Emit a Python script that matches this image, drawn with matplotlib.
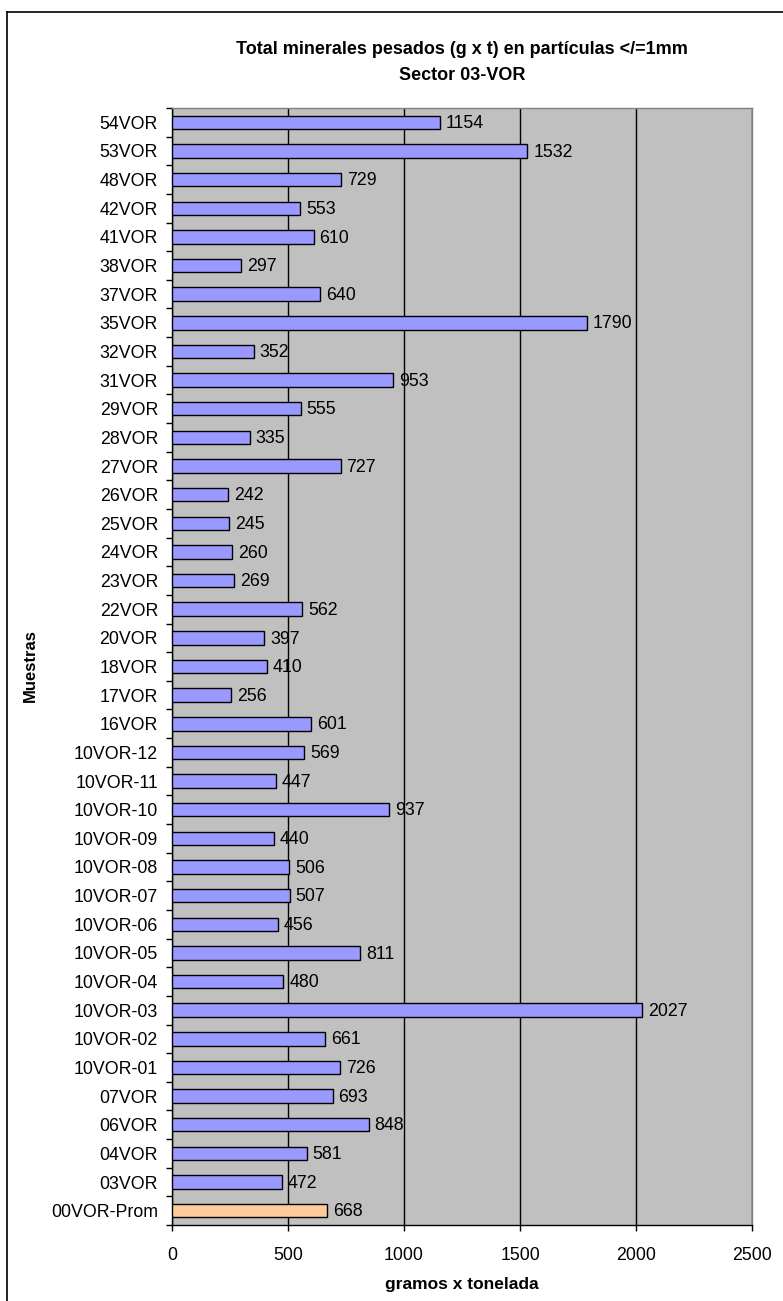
import matplotlib
matplotlib.use("Agg")
import matplotlib.pyplot as plt
from matplotlib.lines import Line2D
import numpy as np

plt.rcParams['font.family'] = ['Liberation Sans', 'DejaVu Sans']

categories = ["54VOR", "53VOR", "48VOR", "42VOR", "41VOR", "38VOR", "37VOR", "35VOR",
              "32VOR", "31VOR", "29VOR", "28VOR", "27VOR", "26VOR", "25VOR", "24VOR",
              "23VOR", "22VOR", "20VOR", "18VOR", "17VOR", "16VOR", "10VOR-12", "10VOR-11",
              "10VOR-10", "10VOR-09", "10VOR-08", "10VOR-07", "10VOR-06", "10VOR-05",
              "10VOR-04", "10VOR-03", "10VOR-02", "10VOR-01", "07VOR", "06VOR", "04VOR",
              "03VOR", "00VOR-Prom"]
values = [1154, 1532, 729, 553, 610, 297, 640, 1790, 352, 953, 555, 335, 727, 242, 245,
          260, 269, 562, 397, 410, 256, 601, 569, 447, 937, 440, 506, 507, 456, 811,
          480, 2027, 661, 726, 693, 848, 581, 472, 668]
average_label = "00VOR-Prom"
x_ticks = [0, 500, 1000, 1500, 2000, 2500]

W, H = 783, 1301
fig = plt.figure(figsize=(W / 100, H / 100), dpi=100)
ax = fig.add_axes([172 / W, 1 - 1225 / H, (752 - 172) / W, (1225 - 108) / H])

n = len(categories)
ypos = np.arange(n)
colors = ['#FFCC99' if c == average_label else '#9999FF' for c in categories]
ax.set_facecolor('#C0C0C0')
bars = ax.barh(ypos, values, height=0.47, color=colors, edgecolor='black', linewidth=1.0, zorder=3)
for b, v in zip(bars, values):
    ax.text(b.get_width() + 25, b.get_y() + b.get_height() / 2 + 0.04, f"{v}",
            va='center', ha='left', fontsize=12.8, zorder=4)

ax.set_ylim(n - 0.5, -0.5)
ax.set_xlim(0, 2500)
ax.set_xticks(x_ticks)
ax.set_xticklabels([str(t) for t in x_ticks], fontsize=12.8)
ax.set_yticks(ypos)
ax.set_yticklabels(categories, fontsize=12.8)
ax.set_yticks(np.arange(n + 1) - 0.5, minor=True)
ax.tick_params(axis='y', which='major', length=0, pad=10)
ax.tick_params(axis='y', which='minor', length=4, width=1, direction='out', color='black')
ax.tick_params(axis='x', which='major', length=4, width=1, direction='out', pad=12)
ax.xaxis.grid(True, color='black', linewidth=1.0, zorder=1)
ax.set_axisbelow(True)

for s in ['left', 'bottom']:
    ax.spines[s].set_color('black')
    ax.spines[s].set_linewidth(1.0)
for s in ['top', 'right']:
    ax.spines[s].set_color('#808080')
    ax.spines[s].set_linewidth(1.0)

ax.set_xlabel("gramos x tonelada", fontsize=12.5, fontweight='bold', labelpad=9)
fig.text(30 / W, 1 - 666 / H, "Muestras", rotation=90, fontsize=12, fontweight='bold',
         ha='center', va='center')
fig.text(462 / W, 1 - 50 / H, "Total minerales pesados (g x t) en partículas </=1mm",
         fontsize=13, fontweight='bold', ha='center', va='center')
fig.text(462 / W, 1 - 75 / H, "Sector 03-VOR", fontsize=13, fontweight='bold',
         ha='center', va='center')

# outer chart-area border (left and top visible)
fig.add_artist(Line2D([7.5 / W, 7.5 / W], [0, 1 - 12 / H], transform=fig.transFigure,
                      color='black', linewidth=1.2))
fig.add_artist(Line2D([7.5 / W, 1], [1 - 12 / H, 1 - 12 / H], transform=fig.transFigure,
                      color='black', linewidth=1.2))

fig.savefig("out.png", dpi=100)
